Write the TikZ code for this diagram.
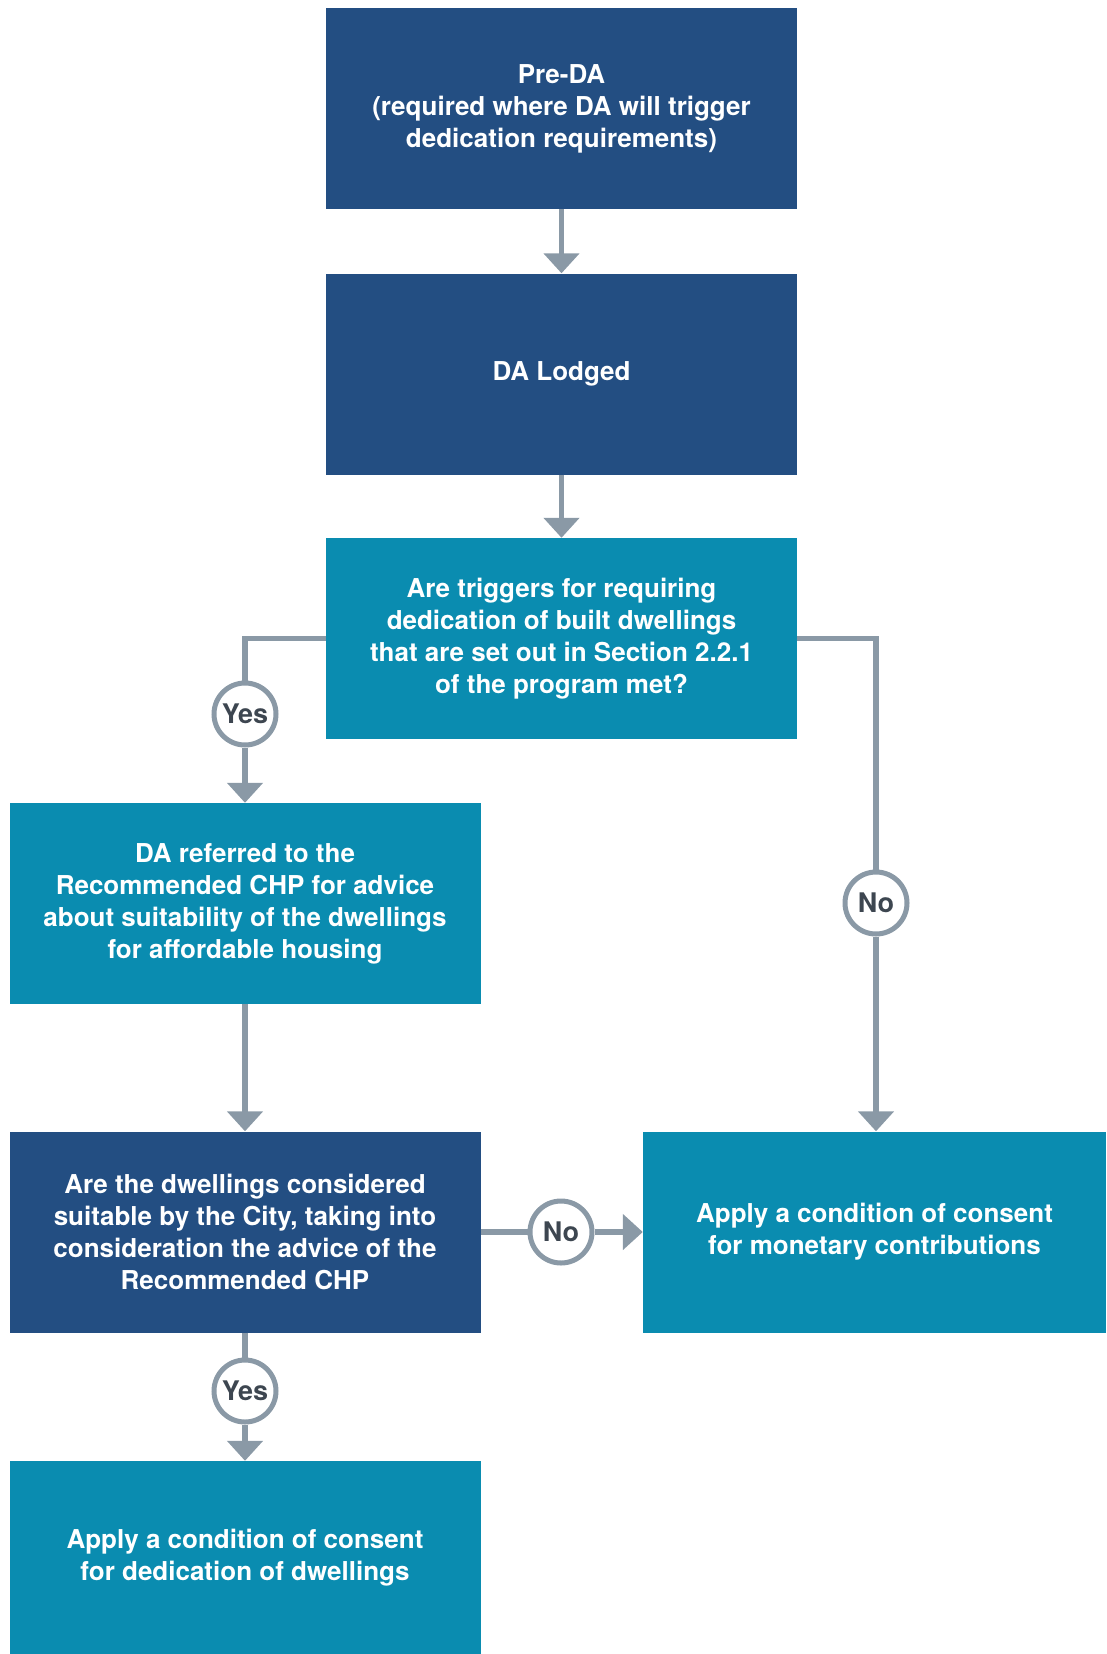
\documentclass[tikz,border=0pt]{standalone}
\usepackage{fontspec}
\setmainfont{TeX Gyre Heros}
\usepackage{tikz}
\usetikzlibrary{positioning, arrows.meta, calc}
\definecolor{navyblk}{HTML}{234E82}
\definecolor{tealblk}{HTML}{0A8CB0}
\definecolor{linegray}{HTML}{8A99A6}
\definecolor{txtgray}{HTML}{3D4650}

\begin{document}
\begin{tikzpicture}[x=1pt, y=-1pt, >={Triangle[width=35pt, length=20pt]},
  box/.style={rectangle, minimum width=471pt, minimum height=201pt, inner sep=0pt,
    text=white, align=center, font=\fontsize{26}{32}\selectfont\bfseries},
  dark/.style={box, fill=navyblk},
  light/.style={box, fill=tealblk},
  tag/.style={circle, draw=linegray, line width=5pt, fill=white, minimum size=62pt, inner sep=0pt,
    text=txtgray, font=\fontsize{27}{30}\selectfont\bfseries},
  conn/.style={draw=linegray, line width=5.5pt}]
\useasboundingbox (0,0) rectangle (1106,1654);
% top chain
\node[dark]  (preda)  at (561.5,108.5) {Pre-DA\\(required where DA will trigger\\dedication requirements)};
\node[dark]  (lodged) at (561.5,374)   {DA Lodged};
\node[light] (trig)   at (561.5,638.5) {Are triggers for requiring\\dedication of built dwellings\\that are set out in Section 2.2.1\\of the program met?};
% left branch
\node[light] (refer)  at (245,903.5)  {DA referred to the\\Recommended CHP for advice\\about suitability of the dwellings\\for affordable housing};
\node[dark]  (suit)   at (245,1232)   {Are the dwellings considered\\suitable by the City, taking into\\consideration the advice of the\\Recommended CHP};
\node[light, minimum height=193pt] (dedic) at (245,1557.5) {Apply a condition of consent\\for dedication of dwellings};
% right branch
\node[light, minimum width=463pt] (money) at (874.5,1232) {Apply a condition of consent\\for monetary contributions};
% decision tags
\node[tag] (yesA) at (245,714)  {Yes};
\node[tag] (noA)  at (876,903) {No};
\node[tag] (noB)  at (561,1232) {No};
\node[tag] (yesB) at (245,1391) {Yes};
% connectors
\draw[conn, ->] (preda) -- (lodged);
\draw[conn, ->] (lodged) -- (trig);
\draw[conn] (trig.west) -| (yesA);
\draw[conn, ->] (yesA) -- (refer);
\draw[conn] (trig.east) -| (noA);
\draw[conn, ->] (noA) -- (noA |- money.north);
\draw[conn, ->] (refer) -- (suit);
\draw[conn] (suit) -- (noB);
\draw[conn, ->] (noB) -- (money);
\draw[conn] (suit) -- (yesB);
\draw[conn, ->] (yesB) -- (dedic);
\end{tikzpicture}
\end{document}
